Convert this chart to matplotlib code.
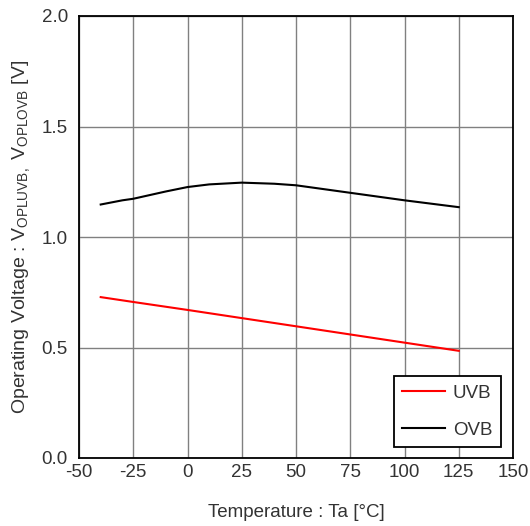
import matplotlib.pyplot as plt

plt.rcParams['font.family'] = ['Liberation Sans', 'DejaVu Sans']
plt.rcParams['axes.unicode_minus'] = False

# temperature points (deg C)
temp_ovb = [-40, -30, -25, -10, 0, 10, 25, 40, 50, 75, 100, 125]
# OVB operating voltage (V)
ovb = [1.147, 1.166, 1.173, 1.206, 1.226, 1.238, 1.246, 1.241, 1.234, 1.200, 1.166, 1.135]

temp_uvb = [-40, -25, 0, 25, 50, 75, 100, 125]
# UVB operating voltage (V)
uvb = [0.728, 0.706, 0.670, 0.633, 0.596, 0.559, 0.522, 0.485]

txt = '#333333'

fig = plt.figure(figsize=(5.3, 5.26), dpi=100)
ax = fig.add_axes([79 / 530, 68 / 526, 434 / 530, 442 / 526])

ax.plot(temp_uvb, uvb, color='#ff0000', lw=1.5, label='UVB')
ax.plot(temp_ovb, ovb, color='#000000', lw=1.5, label='OVB')

ax.set_xlim(-50, 150)
ax.set_ylim(0, 2.0)
ax.set_xticks(range(-50, 151, 25))
ax.set_yticks([0, 0.5, 1.0, 1.5, 2.0])
ax.set_yticklabels(['0.0', '0.5', '1.0', '1.5', '2.0'])
ax.grid(True, color='#808080', lw=1)
ax.tick_params(length=0, labelsize=13.5, labelcolor=txt)
ax.tick_params(axis='x', pad=4)
ax.tick_params(axis='y', pad=8)
for s in ax.spines.values():
    s.set_color('black')
    s.set_linewidth(1.3)

ax.set_xlabel('Temperature : Ta [°C]', fontsize=13.5, color=txt, labelpad=17)
ax.set_ylabel('Operating Voltage : V$_{\\mathregular{OPLUVB,}}$ V$_{\\mathregular{OPLOVB}}$ [V]',
              fontsize=14, color=txt, labelpad=6)

leg = ax.legend(loc='lower right', fontsize=13.5, fancybox=False, framealpha=1,
                edgecolor='black', handlelength=2.3, handletextpad=0.4,
                borderpad=0.45, labelspacing=1.05, borderaxespad=0,
                bbox_to_anchor=(0.972, 0.025))
leg.get_frame().set_linewidth(1.3)
for t in leg.get_texts():
    t.set_color(txt)

fig.savefig('out.png')
